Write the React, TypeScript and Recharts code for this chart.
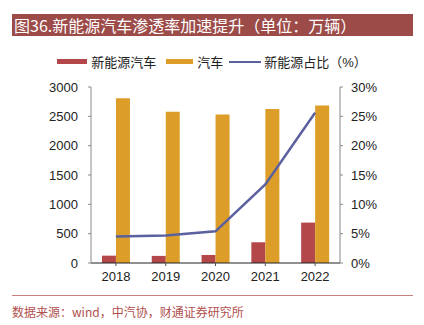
import React from 'react';
import { ComposedChart, Bar, Line, XAxis, YAxis, Legend } from 'recharts';

const years = ['2018', '2019', '2020', '2021', '2022'];
const nevSales = [125, 121, 137, 352, 689];
const carSales = [2808, 2576, 2531, 2627, 2686];
const nevShare = [4.5, 4.7, 5.4, 13.4, 25.6];

const leftTicks = [0, 500, 1000, 1500, 2000, 2500, 3000];
const rightTicks = [0, 5, 10, 15, 20, 25, 30];

const data = years.map((y, i) => ({
  year: y,
  nev: nevSales[i],
  car: carSales[i],
  share: nevShare[i],
}));

const RED = '#B4474A';
const ORANGE = '#DC9E28';
const BLUE = '#5A619E';
const TITLE_BG = '#9C4B48';

const tickStyle = { fontSize: 13, fill: '#222', fontFamily: '"Liberation Sans", Arial, sans-serif' };

const LegendContent = () => (
  <div style={{ display: 'flex', justifyContent: 'center', alignItems: 'center', fontSize: 13, color: '#222', fontFamily: '"Liberation Sans", "Noto Sans CJK SC", sans-serif' }}>
    <span style={{ display: 'inline-block', width: 30, height: 5, background: RED, marginRight: 4 }} />
    <span style={{ marginRight: 10 }}>新能源汽车</span>
    <span style={{ display: 'inline-block', width: 27, height: 5, background: ORANGE, marginRight: 4 }} />
    <span style={{ marginRight: 6 }}>汽车</span>
    <span style={{ display: 'inline-block', width: 32, height: 2, background: BLUE, marginRight: 3 }} />
    <span>新能源占比（%）</span>
  </div>
);

const App: React.FC = () => (
  <div style={{ position: 'relative', width: 424, height: 325, background: '#fff', overflow: 'hidden' }}>
    <style>{`body{margin:0}`}</style>
    <div
      style={{
        position: 'absolute', left: 12, top: 14, width: 401, height: 22, background: TITLE_BG,
        color: '#fff', fontSize: 16, lineHeight: '22px', paddingLeft: 2, boxSizing: 'border-box',
        fontFamily: '"Noto Sans CJK SC", sans-serif', whiteSpace: 'nowrap',
      }}
    >
      图36.新能源汽车渗透率加速提升（单位：万辆）
    </div>
    <div style={{ position: 'absolute', left: 0, top: 0 }}>
      <ComposedChart
        width={424}
        height={325}
        data={data}
        margin={{ top: 68, right: 0, bottom: 32, left: 0 }}
        barGap={0}
        barCategoryGap="22%"
      >
        <XAxis
          dataKey="year"
          height={30}
          tick={tickStyle}
          tickLine={{ stroke: '#555' }}
          tickSize={3}
          axisLine={{ stroke: '#222' }}
          tickMargin={6}
        />
        <YAxis
          yAxisId="left"
          width={91}
          domain={[0, 3000]}
          ticks={leftTicks}
          interval={0}
          tick={tickStyle}
          tickSize={3}
          tickMargin={10}
          tickLine={{ stroke: '#888' }}
          axisLine={{ stroke: '#888' }}
        />
        <YAxis
          yAxisId="right"
          orientation="right"
          width={84}
          domain={[0, 30]}
          ticks={rightTicks}
          interval={0}
          tickFormatter={(v: number) => `${v}%`}
          tick={tickStyle}
          tickSize={3}
          tickMargin={8}
          tickLine={{ stroke: '#888' }}
          axisLine={{ stroke: '#888' }}
        />
        <Legend
          verticalAlign="top"
          content={LegendContent}
          wrapperStyle={{ top: 52, left: 0, width: 424 }}
        />
        <Bar yAxisId="left" dataKey="nev" name="新能源汽车" fill={RED} isAnimationActive={false} />
        <Bar yAxisId="left" dataKey="car" name="汽车" fill={ORANGE} isAnimationActive={false} />
        <Line
          yAxisId="right"
          dataKey="share"
          name="新能源占比（%）"
          stroke={BLUE}
          strokeWidth={2.5}
          dot={false}
          type="linear"
          isAnimationActive={false}
        />
      </ComposedChart>
    </div>
    <div style={{ position: 'absolute', left: 12, top: 295, width: 401, height: 1, background: '#C98080' }} />
    <div
      style={{
        position: 'absolute', left: 12, top: 303, fontSize: 12, color: '#B0504E',
        fontFamily: '"Noto Sans CJK SC", serif', whiteSpace: 'nowrap',
      }}
    >
      数据来源：wind，中汽协，财通证券研究所
    </div>
  </div>
);

export default App;
